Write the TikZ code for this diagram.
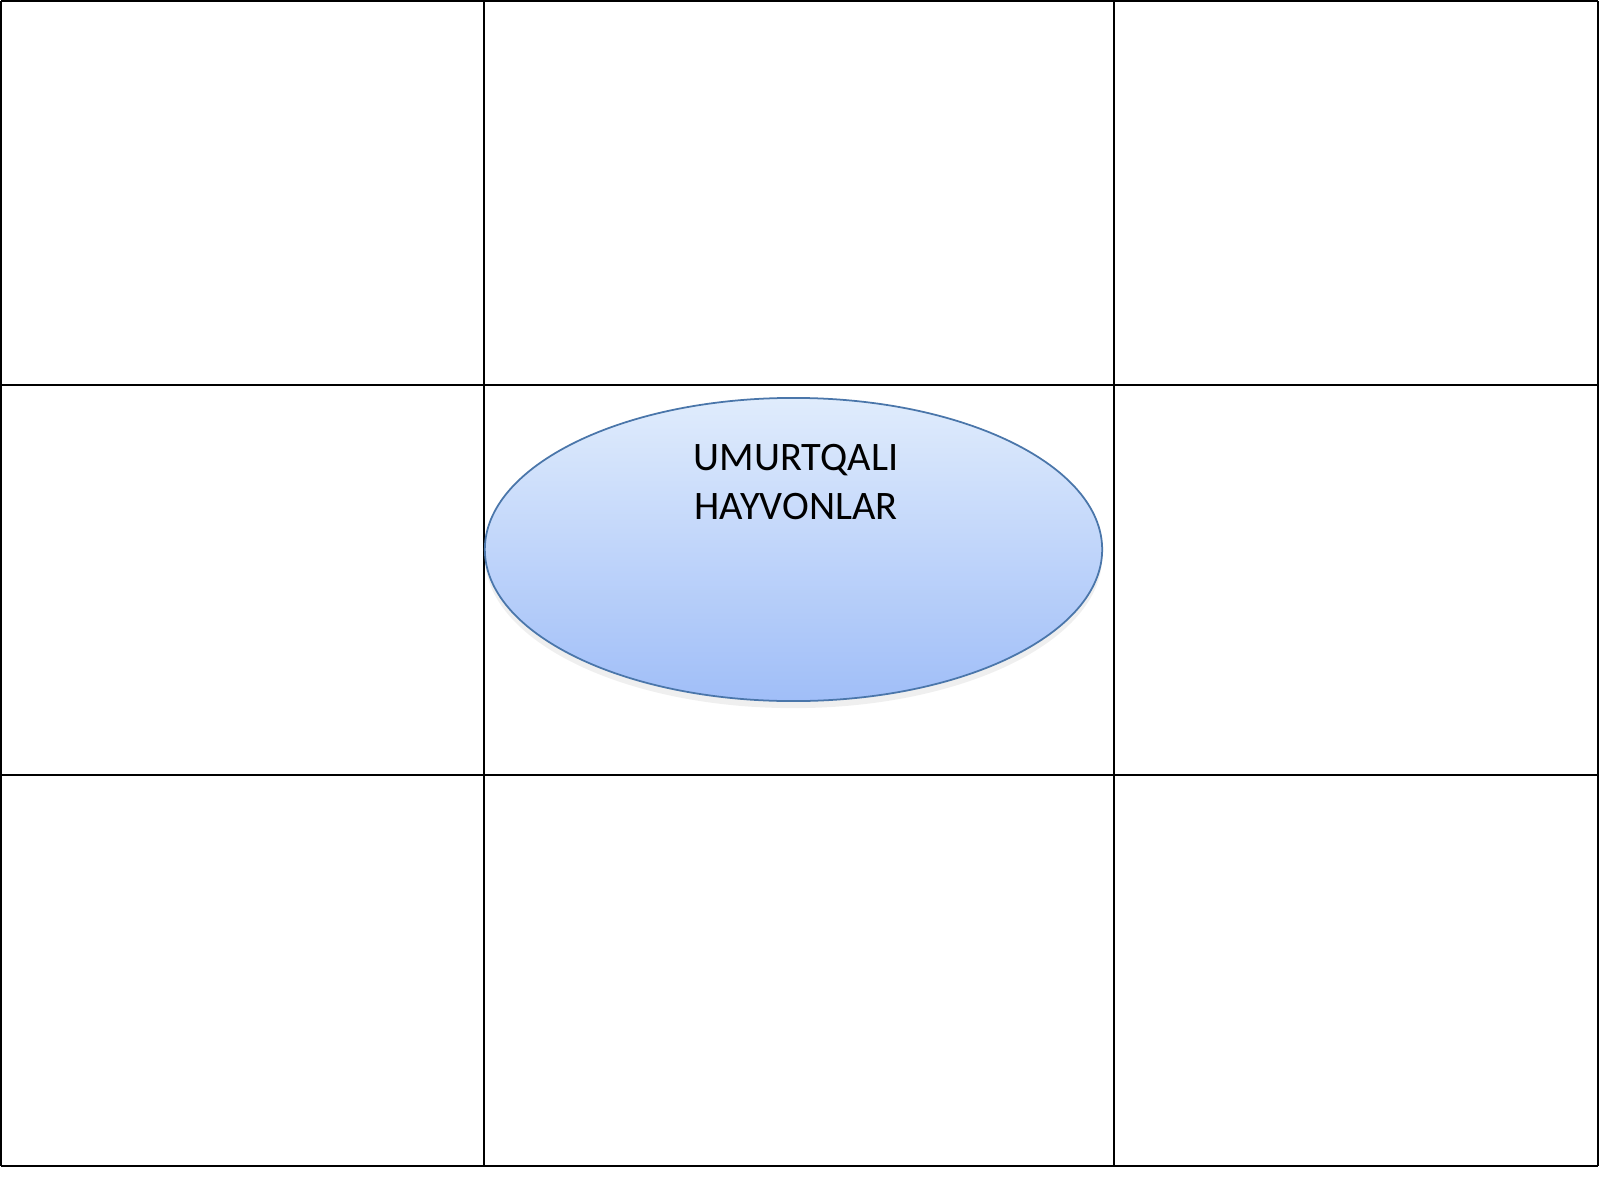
\documentclass[tikz,border=0pt]{standalone}
\usepackage{fontspec}
\setmainfont{Carlito}
\usetikzlibrary{shapes.geometric,shadows}
\definecolor{ovaltop}{RGB}{224,236,252}
\definecolor{ovalbot}{RGB}{160,190,248}
\definecolor{ovalline}{RGB}{74,118,170}
\begin{document}
\begin{tikzpicture}[x = .01cm, y = -.01cm,
	gridline/.style = {draw = black, line width = .6pt},
	oval/.style = {ellipse, draw = ovalline, line width = .5pt, top color = ovaltop, bottom color = ovalbot,
		minimum width = 6.17cm, minimum height = 3.03cm, inner sep = 0,
		drop shadow = {opacity = .12, shadow xshift = 0pt, shadow yshift = -2pt}},
	label/.style = {align = center, font = \fontsize{11.5}{13.7}\selectfont}]
\useasboundingbox (0, 0) rectangle (1600, 1200);
\fill [white] (0, 0) rectangle (1600, 1200);
% the 3x3 table
\foreach \x in {1, 484, 1114, 1598}{
	\draw [gridline] (\x, 1) -- (\x, 1166);
};
\foreach \y in {1, 385, 775, 1166}{
	\draw [gridline] (1, \y) -- (1598, \y);
};
\node [oval] (vertebrates) at (793.5, 549.5) {};
\node [label] (title) at (796, 482) {UMURTQALI\\HAYVONLAR};
\end{tikzpicture}
\end{document}
